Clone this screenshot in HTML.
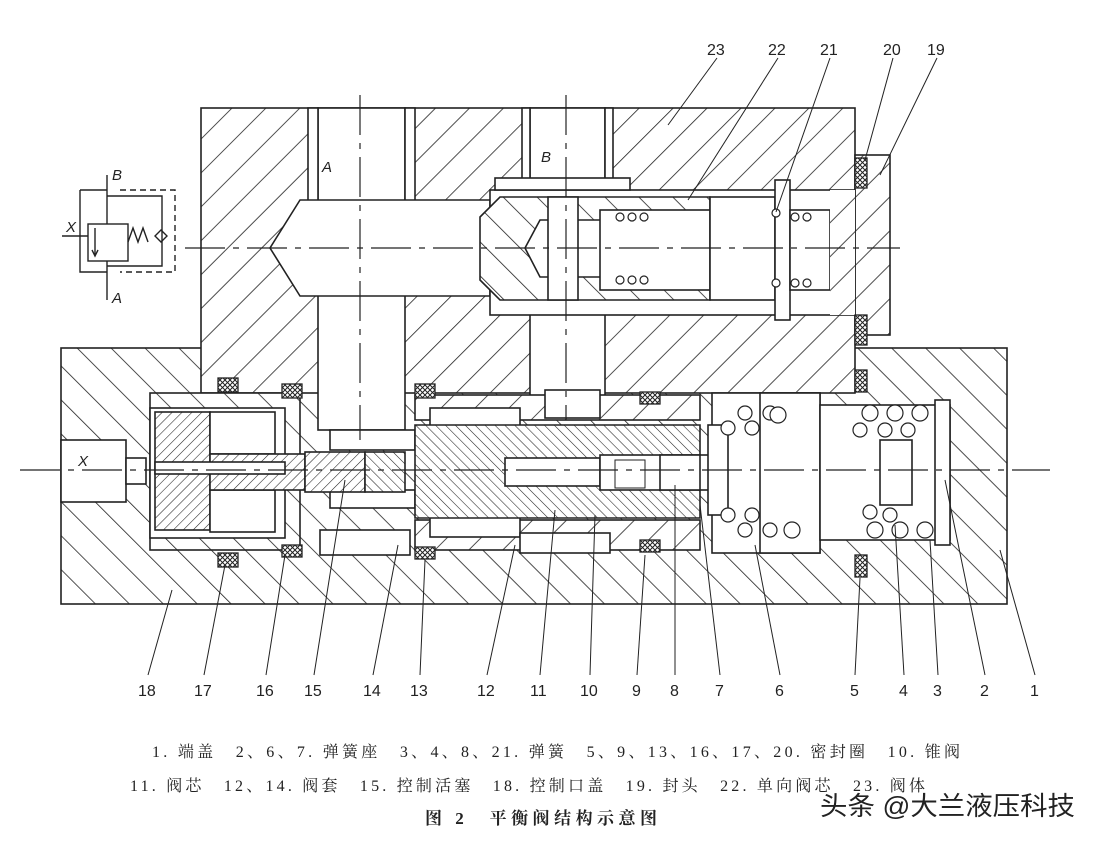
<!DOCTYPE html>
<html><head><meta charset="utf-8"><style>
html,body{margin:0;padding:0;background:#fff;}
svg{display:block}
text{font-family:"Liberation Sans","Noto Sans CJK SC",sans-serif;fill:#222}
</style></head><body>
<svg width="1100" height="846" viewBox="0 0 1100 846" xmlns="http://www.w3.org/2000/svg">
<defs>
<pattern id="hA" patternUnits="userSpaceOnUse" width="24" height="24" patternTransform="rotate(45)"><rect width="24" height="24" fill="#fff"/><line x1="0" y1="0" x2="0" y2="24" stroke="#222" stroke-width="1.6"/></pattern>
<pattern id="hB" patternUnits="userSpaceOnUse" width="24" height="24" patternTransform="rotate(-45)"><rect width="24" height="24" fill="#fff"/><line x1="0" y1="0" x2="0" y2="24" stroke="#222" stroke-width="1.6"/></pattern>
<pattern id="hF" patternUnits="userSpaceOnUse" width="7" height="7" patternTransform="rotate(-45)"><rect width="7" height="7" fill="#fff"/><line x1="0" y1="0" x2="0" y2="7" stroke="#222" stroke-width="1.1"/></pattern>
<pattern id="hG" patternUnits="userSpaceOnUse" width="7" height="7" patternTransform="rotate(45)"><rect width="7" height="7" fill="#fff"/><line x1="0" y1="0" x2="0" y2="7" stroke="#222" stroke-width="1.1"/></pattern>
<pattern id="hX" patternUnits="userSpaceOnUse" width="5" height="5"><rect width="5" height="5" fill="#fff"/><path d="M0 0L5 5M5 0L0 5" stroke="#222" stroke-width="1"/></pattern>
</defs>
<g stroke="#222" stroke-width="1.6">
<rect x="61" y="348" width="946" height="256" fill="url(#hB)"/>
<rect x="201" y="108" width="654" height="285" fill="url(#hA)"/>
<rect x="855" y="155" width="35" height="180" fill="url(#hA)"/>
<rect x="318" y="108" width="87" height="322" fill="#fff"/>
<rect x="308" y="108" width="10" height="95" fill="#fff"/>
<rect x="405" y="108" width="10" height="95" fill="#fff"/>
<rect x="530" y="108" width="75" height="295" fill="#fff"/>
<rect x="522" y="108" width="8" height="80" fill="#fff"/>
<rect x="605" y="108" width="8" height="80" fill="#fff"/>
<polygon points="300,200 490,200 490,296 300,296 270,248" fill="#fff"/>
<rect x="490" y="190" width="365" height="125" fill="#fff"/>
<rect x="495" y="178" width="135" height="12" fill="#fff"/>
<path d="M500,197 L710,197 L710,300 L500,300 L480,280 L480,217 Z" fill="url(#hB)"/>
<polygon points="540,220 710,220 710,277 540,277 525,248" fill="#fff"/>
<rect x="600" y="210" width="110" height="80" fill="#fff"/>
<rect x="548" y="197" width="30" height="103" fill="#fff"/>
<rect x="710" y="197" width="65" height="103" fill="#fff"/>
<rect x="775" y="180" width="15" height="140" fill="#fff"/>
<rect x="790" y="210" width="40" height="80" fill="#fff"/>
<rect x="830" y="190" width="25" height="125" fill="url(#hA)" stroke="none"/>
<rect x="150" y="393" width="150" height="157" fill="url(#hB)"/>
<rect x="150" y="408" width="135" height="130" fill="#fff"/>
<rect x="155" y="412" width="55" height="118" fill="url(#hG)"/>
<rect x="210" y="412" width="65" height="42" fill="#fff"/>
<rect x="210" y="490" width="65" height="42" fill="#fff"/>
<rect x="210" y="454" width="95" height="36" fill="url(#hG)"/>
<rect x="155" y="462" width="130" height="12" fill="#fff"/>
<rect x="330" y="430" width="85" height="20" fill="#fff"/>
<rect x="330" y="490" width="85" height="18" fill="#fff"/>
<rect x="320" y="530" width="90" height="25" fill="#fff"/>
<rect x="305" y="452" width="60" height="40" fill="url(#hG)"/>
<rect x="365" y="452" width="40" height="40" fill="url(#hF)"/>
<rect x="415" y="395" width="285" height="25" fill="url(#hA)"/>
<rect x="415" y="520" width="285" height="30" fill="url(#hA)"/>
<rect x="430" y="408" width="90" height="22" fill="#fff"/>
<rect x="430" y="515" width="90" height="22" fill="#fff"/>
<path d="M415,425 L700,425 L700,518 L415,518 Z" fill="url(#hF)"/>
<rect x="505" y="458" width="95" height="28" fill="#fff"/>
<rect x="600" y="455" width="110" height="35" fill="#fff"/>
<rect x="615" y="460" width="30" height="28" fill="#fff" stroke-width="1"/>
<rect x="660" y="455" width="40" height="35" fill="#fff"/>
<rect x="520" y="533" width="90" height="20" fill="#fff"/>
<rect x="545" y="390" width="55" height="28" fill="#fff"/>
<rect x="712" y="393" width="108" height="160" fill="#fff"/>
<rect x="760" y="393" width="60" height="160" fill="#fff"/>
<rect x="708" y="425" width="20" height="90" fill="#fff"/>
<rect x="820" y="405" width="130" height="135" fill="#fff"/>
<rect x="880" y="440" width="32" height="65" fill="#fff"/>
<rect x="935" y="400" width="15" height="145" fill="#fff"/>
<rect x="61" y="440" width="65" height="62" fill="#fff"/>
<rect x="126" y="458" width="20" height="26" fill="#fff"/>
</g>
<g stroke="#222" stroke-width="1.3" fill="url(#hX)">
<rect x="218" y="378" width="20" height="14"/><rect x="282" y="384" width="20" height="14"/><rect x="415" y="384" width="20" height="14"/><rect x="640" y="392" width="20" height="12"/>
<rect x="218" y="553" width="20" height="14"/><rect x="282" y="545" width="20" height="12"/><rect x="415" y="547" width="20" height="12"/><rect x="640" y="540" width="20" height="12"/>
<rect x="855" y="158" width="12" height="30"/><rect x="855" y="315" width="12" height="30"/><rect x="855" y="370" width="12" height="22"/><rect x="855" y="555" width="12" height="22"/>
</g>
<g stroke="#222" stroke-width="1.2" fill="#fff">
<circle cx="620" cy="217" r="4"/><circle cx="632" cy="217" r="4"/><circle cx="644" cy="217" r="4"/>
<circle cx="620" cy="280" r="4"/><circle cx="632" cy="280" r="4"/><circle cx="644" cy="280" r="4"/>
<circle cx="776" cy="213" r="4"/><circle cx="795" cy="217" r="4"/><circle cx="807" cy="217" r="4"/>
<circle cx="776" cy="283" r="4"/><circle cx="795" cy="283" r="4"/><circle cx="807" cy="283" r="4"/>
<circle cx="745" cy="413" r="7"/><circle cx="770" cy="413" r="7"/><circle cx="728" cy="428" r="7"/><circle cx="752" cy="428" r="7"/><circle cx="778" cy="415" r="8"/>
<circle cx="728" cy="515" r="7"/><circle cx="752" cy="515" r="7"/><circle cx="745" cy="530" r="7"/><circle cx="770" cy="530" r="7"/><circle cx="792" cy="530" r="8"/>
<circle cx="870" cy="413" r="8"/><circle cx="895" cy="413" r="8"/><circle cx="920" cy="413" r="8"/><circle cx="860" cy="430" r="7"/><circle cx="885" cy="430" r="7"/><circle cx="908" cy="430" r="7"/>
<circle cx="870" cy="512" r="7"/><circle cx="890" cy="515" r="7"/><circle cx="875" cy="530" r="8"/><circle cx="900" cy="530" r="8"/><circle cx="925" cy="530" r="8"/>
</g>
<g stroke="#222" stroke-width="1.2" stroke-dasharray="40,8,6,8" fill="none">
<line x1="185" y1="248" x2="900" y2="248"/>
<line x1="20" y1="470" x2="1050" y2="470"/>
<line x1="360" y1="95" x2="360" y2="440"/>
<line x1="566" y1="95" x2="566" y2="420"/>
</g>
<g stroke="#222" stroke-width="1.4" fill="none">
<line x1="107" y1="175" x2="107" y2="300"/>
<path d="M80,190 L107,190 M80,190 L80,272 L107,272"/>
<path d="M120,190 L175,190 L175,272 L120,272" stroke-dasharray="6,4"/>
<path d="M107,196 L162,196 L162,266 L107,266"/>
<rect x="88" y="224" width="40" height="37" fill="#fff"/>
<line x1="95" y1="228" x2="95" y2="255"/><path d="M92,250 L95,256 L98,250"/>
<line x1="62" y1="236" x2="88" y2="236"/>
<path d="M128,242 L133,228 L138,242 L143,228 L148,242"/>
<path d="M155,236 L161,230 L167,236 L161,242 Z"/>
</g>
<g font-style="italic" font-size="15">
<text x="112" y="180">B</text><text x="112" y="303">A</text><text x="66" y="232">X</text>
<text x="322" y="172">A</text><text x="541" y="162">B</text><text x="78" y="466">X</text>
</g>
<g stroke="#222" stroke-width="1" fill="none">
<path d="M717,58 L668,125"/><path d="M778,58 L688,200"/><path d="M830,58 L776,212"/><path d="M893,58 L865,160"/><path d="M937,58 L880,175"/>
<path d="M148,675 L172,590"/><path d="M204,675 L225,565"/><path d="M266,675 L285,555"/><path d="M314,675 L345,480"/><path d="M373,675 L398,545"/><path d="M420,675 L425,560"/><path d="M487,675 L515,545"/><path d="M540,675 L555,510"/><path d="M590,675 L595,515"/><path d="M637,675 L645,555"/><path d="M675,675 L675,485"/><path d="M720,675 L700,505"/><path d="M780,675 L755,545"/><path d="M855,675 L860,578"/><path d="M904,675 L895,525"/><path d="M938,675 L930,540"/><path d="M985,675 L945,480"/><path d="M1035,675 L1000,550"/>
</g>
<g font-size="16">
<text x="707" y="55">23</text><text x="768" y="55">22</text><text x="820" y="55">21</text><text x="883" y="55">20</text><text x="927" y="55">19</text>
<text x="138" y="696">18</text><text x="194" y="696">17</text><text x="256" y="696">16</text><text x="304" y="696">15</text><text x="363" y="696">14</text><text x="410" y="696">13</text><text x="477" y="696">12</text><text x="530" y="696">11</text><text x="580" y="696">10</text><text x="632" y="696">9</text><text x="670" y="696">8</text><text x="715" y="696">7</text><text x="775" y="696">6</text><text x="850" y="696">5</text><text x="899" y="696">4</text><text x="933" y="696">3</text><text x="980" y="696">2</text><text x="1030" y="696">1</text>
</g>
<g>
<text x="152" y="757" font-size="16" textLength="808" lengthAdjust="spacing" style="font-family:'Liberation Serif','Noto Serif CJK SC',serif">1. 端盖　2、6、7. 弹簧座　3、4、8、21. 弹簧　5、9、13、16、17、20. 密封圈　10. 锥阀</text>
<text x="130" y="791" font-size="16" textLength="795" lengthAdjust="spacing" style="font-family:'Liberation Serif','Noto Serif CJK SC',serif">11. 阀芯　12、14. 阀套　15. 控制活塞　18. 控制口盖　19. 封头　22. 单向阀芯　23. 阀体</text>
<text x="425" y="824" font-size="17" font-weight="bold" textLength="232" lengthAdjust="spacing" style="font-family:'Liberation Serif','Noto Serif CJK SC',serif">图 2　平衡阀结构示意图</text>
</g>
<text x="820" y="815" font-size="26" textLength="255" lengthAdjust="spacingAndGlyphs" style="font-family:'Liberation Sans','Noto Sans CJK SC',sans-serif">头条 @大兰液压科技</text>
</svg>
</body></html>
